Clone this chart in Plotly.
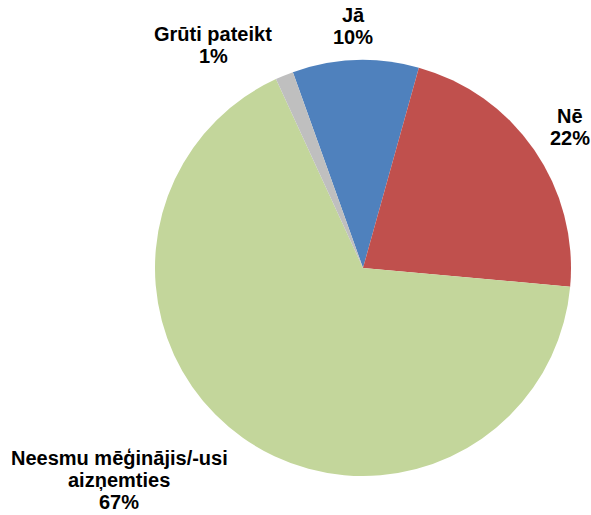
import plotly.graph_objects as go

labels = ["Jā", "Nē", "Neesmu mēģinājis/-usi<br>aizņemties", "Grūti pateikt"]
values = [9.8, 22.1, 66.7, 1.4]
shown_pct = ["10%", "22%", "67%", "1%"]
colors = ["#4F81BD", "#C0504D", "#C3D69B", "#BFBFBF"]

# label placement: centre x and first-line centre y (pixels in 591x515 canvas)
label_px = [(353, 14.7), (570, 116.3), (119, 458), (213, 34)]
line_step = 22

W, H = 591, 515
cx, cy, r = 363, 268, 208

fig = go.Figure(go.Pie(
    labels=labels,
    values=values,
    marker=dict(colors=colors, line=dict(width=0)),
    sort=False,
    direction="clockwise",
    rotation=-19.7,
    textinfo="none",
    hoverinfo="label+percent",
    showlegend=False,
    domain=dict(x=[(cx - r) / W, (cx + r) / W], y=[(H - cy - r) / H, (H - cy + r) / H]),
))

for lab, pct, (px, py) in zip(labels, shown_pct, label_px):
    lines = lab.split("<br>") + [pct]
    for i, ln in enumerate(lines):
        fig.add_annotation(
            x=px / W, y=1 - (py + i * line_step) / H, xref="paper", yref="paper",
            text=ln, showarrow=False,
            xanchor="center", yanchor="middle", align="center",
            font=dict(family="Liberation Sans, Arial, sans-serif", size=20,
                      color="#000000", weight="bold"),
        )

fig.update_layout(
    width=W, height=H,
    margin=dict(l=0, r=0, t=0, b=0),
    paper_bgcolor="white", plot_bgcolor="white",
)

fig.write_html("out.html", config={"displayModeBar": False},
               post_script="document.body.style.margin='0';")
